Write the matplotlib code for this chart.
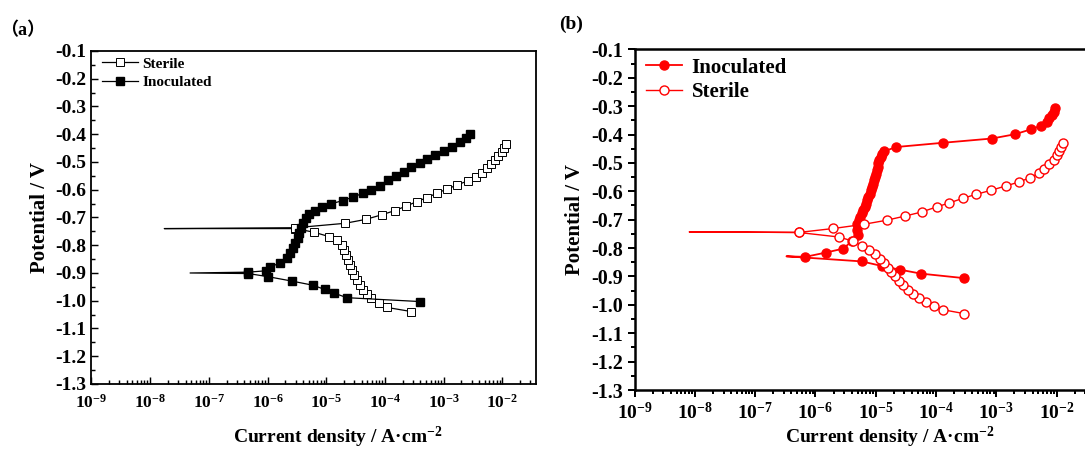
import numpy as np
import matplotlib.pyplot as plt
from matplotlib.ticker import MultipleLocator, FuncFormatter, LogLocator, NullFormatter

plt.rcParams['font.family'] = ['Liberation Serif', 'Noto Sans CJK SC']
plt.rcParams['font.weight'] = 'bold'
plt.rcParams['mathtext.fontset'] = 'custom'
plt.rcParams['mathtext.rm'] = 'Liberation Serif:bold'
plt.rcParams['mathtext.it'] = 'Liberation Serif:bold'
plt.rcParams['mathtext.bf'] = 'Liberation Serif:bold'

# (a) log10(i) and E for each branch
a_ster_tip = (-7.76, -0.740)
a_ster_an_logi = [-5.53, -4.68, -4.33, -4.05, -3.83, -3.64, -3.46, -3.29, -3.12, -2.95, -2.77,
                  -2.58, -2.45, -2.35, -2.27, -2.19, -2.13, -2.07, -2.01, -1.97, -1.93]
a_ster_an_E = [-0.737, -0.721, -0.707, -0.690, -0.675, -0.659, -0.643, -0.629, -0.613, -0.598, -0.583,
               -0.567, -0.553, -0.538, -0.523, -0.508, -0.493, -0.478, -0.463, -0.451, -0.435]
a_ster_ca_logi = [-5.53, -5.21, -4.95, -4.82, -4.74, -4.70, -4.66, -4.63, -4.60, -4.56, -4.53,
                  -4.48, -4.43, -4.37, -4.30, -4.23, -4.11, -3.97, -3.55]
a_ster_ca_E = [-0.740, -0.753, -0.769, -0.781, -0.799, -0.817, -0.835, -0.853, -0.871, -0.889, -0.907,
               -0.925, -0.943, -0.961, -0.977, -0.991, -1.009, -1.024, -1.039]

a_inoc_tip = (-7.32, -0.900)
a_inoc_an_logi = [-6.33, -6.02, -5.96, -5.79, -5.67, -5.61, -5.56, -5.53, -5.49, -5.46, -5.43, -5.39,
                  -5.35, -5.29, -5.20, -5.08, -4.92, -4.72, -4.55, -4.38, -4.23, -4.09, -3.94, -3.81,
                  -3.68, -3.55, -3.40, -3.28, -3.15, -2.99, -2.85, -2.72, -2.62, -2.55]
a_inoc_an_E = [-0.897, -0.892, -0.880, -0.863, -0.847, -0.829, -0.811, -0.793, -0.775, -0.757, -0.739, -0.721,
               -0.703, -0.687, -0.675, -0.663, -0.651, -0.639, -0.627, -0.613, -0.601, -0.585, -0.565, -0.549,
               -0.535, -0.519, -0.505, -0.490, -0.475, -0.459, -0.445, -0.429, -0.415, -0.399]
a_inoc_ca_logi = [-6.33, -6.00, -5.59, -5.23, -5.03, -4.86, -4.65, -3.40]
a_inoc_ca_E = [-0.902, -0.913, -0.929, -0.944, -0.959, -0.973, -0.989, -1.003]

# (b)
b_inoc_tip = (-6.48, -0.829)
b_inoc_an_logi = [-6.17, -5.83, -5.54, -5.39, -5.30, -5.31, -5.31, -5.285, -5.26, -5.235, -5.21, -5.185,
                  -5.16, -5.14, -5.12, -5.10, -5.08, -5.06, -5.04, -5.025, -5.01, -4.995, -4.98, -4.97,
                  -4.96, -4.94, -4.92, -4.89, -4.86, -4.66, -3.88, -3.07, -2.69, -2.43, -2.26, -2.16,
                  -2.12, -2.08, -2.05, -2.03]
b_inoc_an_E = [-0.831, -0.816, -0.802, -0.775, -0.755, -0.735, -0.714, -0.702, -0.690, -0.678, -0.667, -0.655,
               -0.643, -0.632, -0.620, -0.608, -0.596, -0.585, -0.573, -0.561, -0.549, -0.538, -0.526, -0.514,
               -0.502, -0.490, -0.479, -0.468, -0.459, -0.444, -0.429, -0.414, -0.399, -0.382, -0.369, -0.355,
               -0.343, -0.332, -0.320, -0.308]
b_inoc_ca_logi = [-5.23, -4.90, -4.60, -4.25, -3.53]
b_inoc_ca_E = [-0.847, -0.863, -0.876, -0.890, -0.906]

b_ster_tip = (-8.09, -0.743)
b_ster_an_logi = [-6.28, -5.70, -5.19, -4.82, -4.51, -4.24, -3.99, -3.78, -3.56, -3.34, -3.08,
                  -2.84, -2.62, -2.44, -2.30, -2.21, -2.12, -2.05, -2.00, -1.96, -1.92, -1.89]
b_ster_an_E = [-0.745, -0.731, -0.716, -0.702, -0.687, -0.673, -0.655, -0.641, -0.625, -0.611, -0.596,
               -0.581, -0.567, -0.552, -0.537, -0.520, -0.505, -0.488, -0.473, -0.458, -0.443, -0.429]
b_ster_ca_logi = [-6.28, -5.61, -5.37, -5.22, -5.11, -5.01, -4.93, -4.86, -4.80, -4.74, -4.68,
                  -4.61, -4.54, -4.46, -4.38, -4.28, -4.17, -4.04, -3.89, -3.53]
b_ster_ca_E = [-0.745, -0.761, -0.776, -0.793, -0.808, -0.822, -0.837, -0.853, -0.869, -0.884, -0.900,
               -0.916, -0.931, -0.947, -0.961, -0.975, -0.990, -1.004, -1.017, -1.031]

x_tick_exps = [-9, -8, -7, -6, -5, -4, -3, -2]


def curve(ca_logi, ca_E, tip, an_logi, an_E):
    # cathodic branch back to the tip, then out along the anodic branch
    logi = list(ca_logi[::-1]) + [tip[0]] + list(an_logi)
    E = list(ca_E[::-1]) + [tip[1]] + list(an_E)
    k = len(ca_logi)
    marks = [i for i in range(len(logi)) if i != k]
    return 10.0 ** np.array(logi), np.array(E), marks


def xfmt(v, p):
    e = round(np.log10(v))
    return r"$\mathregular{10^{%d}}$" % e if e in x_tick_exps else ""


def setup(ax, xmax, yfs, xfs, direction, lw, xpad):
    ax.set_xscale('log')
    ax.set_xlim(1e-9, xmax)
    ax.set_ylim(-1.3, -0.1)
    ax.yaxis.set_major_locator(MultipleLocator(0.1))
    ax.yaxis.set_minor_locator(MultipleLocator(0.05))
    ax.yaxis.set_major_formatter(FuncFormatter(lambda v, p: f"{v:.1f}"))
    ax.xaxis.set_major_locator(LogLocator(base=10, numticks=20))
    ax.xaxis.set_minor_locator(LogLocator(base=10, subs=np.arange(2, 10), numticks=20))
    ax.xaxis.set_minor_formatter(NullFormatter())
    ax.xaxis.set_major_formatter(FuncFormatter(xfmt))
    ax.tick_params(which='both', direction=direction, top=False, right=False, width=lw * 0.8)
    ax.tick_params(axis='y', labelsize=yfs)
    ax.tick_params(axis='x', labelsize=xfs, pad=xpad)
    ax.tick_params(which='major', length=5)
    ax.tick_params(which='minor', length=3)
    for s in ax.spines.values():
        s.set_linewidth(lw)


fig = plt.figure(figsize=(10.85, 4.5), dpi=100)

# ---- (a)
ax1 = fig.add_axes([0.0843, 0.1467, 0.4101, 0.74])
setup(ax1, 10 ** -1.42, 14, 12.5, 'in', 1.3, 7)
x, y, m = curve(a_ster_ca_logi, a_ster_ca_E, a_ster_tip, a_ster_an_logi, a_ster_an_E)
ax1.plot(x, y, color='black', lw=0.9, marker='s', ms=5.5, mfc='white', mec='black', mew=0.7,
         markevery=m, label='Sterile')
x, y, m = curve(a_inoc_ca_logi, a_inoc_ca_E, a_inoc_tip, a_inoc_an_logi, a_inoc_an_E)
ax1.plot(x, y, color='black', lw=0.9, marker='s', ms=5.5, mfc='black', mec='black',
         markevery=m, label='Inoculated')
ax1.legend(loc='upper left', frameon=False, fontsize=11, handlelength=2.3, handletextpad=0.3,
           labelspacing=0.3, borderaxespad=0.2, borderpad=0.2, bbox_to_anchor=(0.011, 1.0))
ax1.set_xlabel('Current density / A·cm$^{-2}$', fontsize=14, fontweight='bold')
ax1.xaxis.set_label_coords(0.554, -0.122)
ax1.set_ylabel('Potential / V', fontsize=15, fontweight='bold', labelpad=4)
fig.text(0.0, 0.922, '（a）', fontsize=13, fontweight='bold')

# ---- (b) (the axes run past the right edge of the picture)
ax2 = fig.add_axes([0.5848, 0.1333, 0.4705, 0.757])
setup(ax2, 10 ** -0.534, 14.5, 14, 'out', 1.8, 3.5)
ax2.spines['right'].set_visible(False)
x, y, m = curve(b_inoc_ca_logi, b_inoc_ca_E, b_inoc_tip, b_inoc_an_logi, b_inoc_an_E)
ax2.plot(x, y, color='red', lw=1.3, marker='o', ms=6.5, mfc='red', mec='red',
         markevery=m, label='Inoculated')
x, y, m = curve(b_ster_ca_logi, b_ster_ca_E, b_ster_tip, b_ster_an_logi, b_ster_an_E)
ax2.plot(x, y, color='red', lw=1.0, marker='o', ms=6.5, mfc='white', mec='red', mew=1.0,
         markevery=m, label='Sterile')
ax2.legend(loc='upper left', frameon=False, fontsize=15, handlelength=1.75, handletextpad=0.45,
           labelspacing=0.2, borderaxespad=0.2, borderpad=0.2, bbox_to_anchor=(0.006, 1.0))
ax2.set_xlabel('Current density / A·cm$^{-2}$', fontsize=14, fontweight='bold', labelpad=1)
ax2.set_ylabel('Potential / V', fontsize=15, fontweight='bold', labelpad=4)
fig.text(0.515, 0.935, '(b)', fontsize=14, fontweight='bold')

fig.savefig('out.png', dpi=100)
